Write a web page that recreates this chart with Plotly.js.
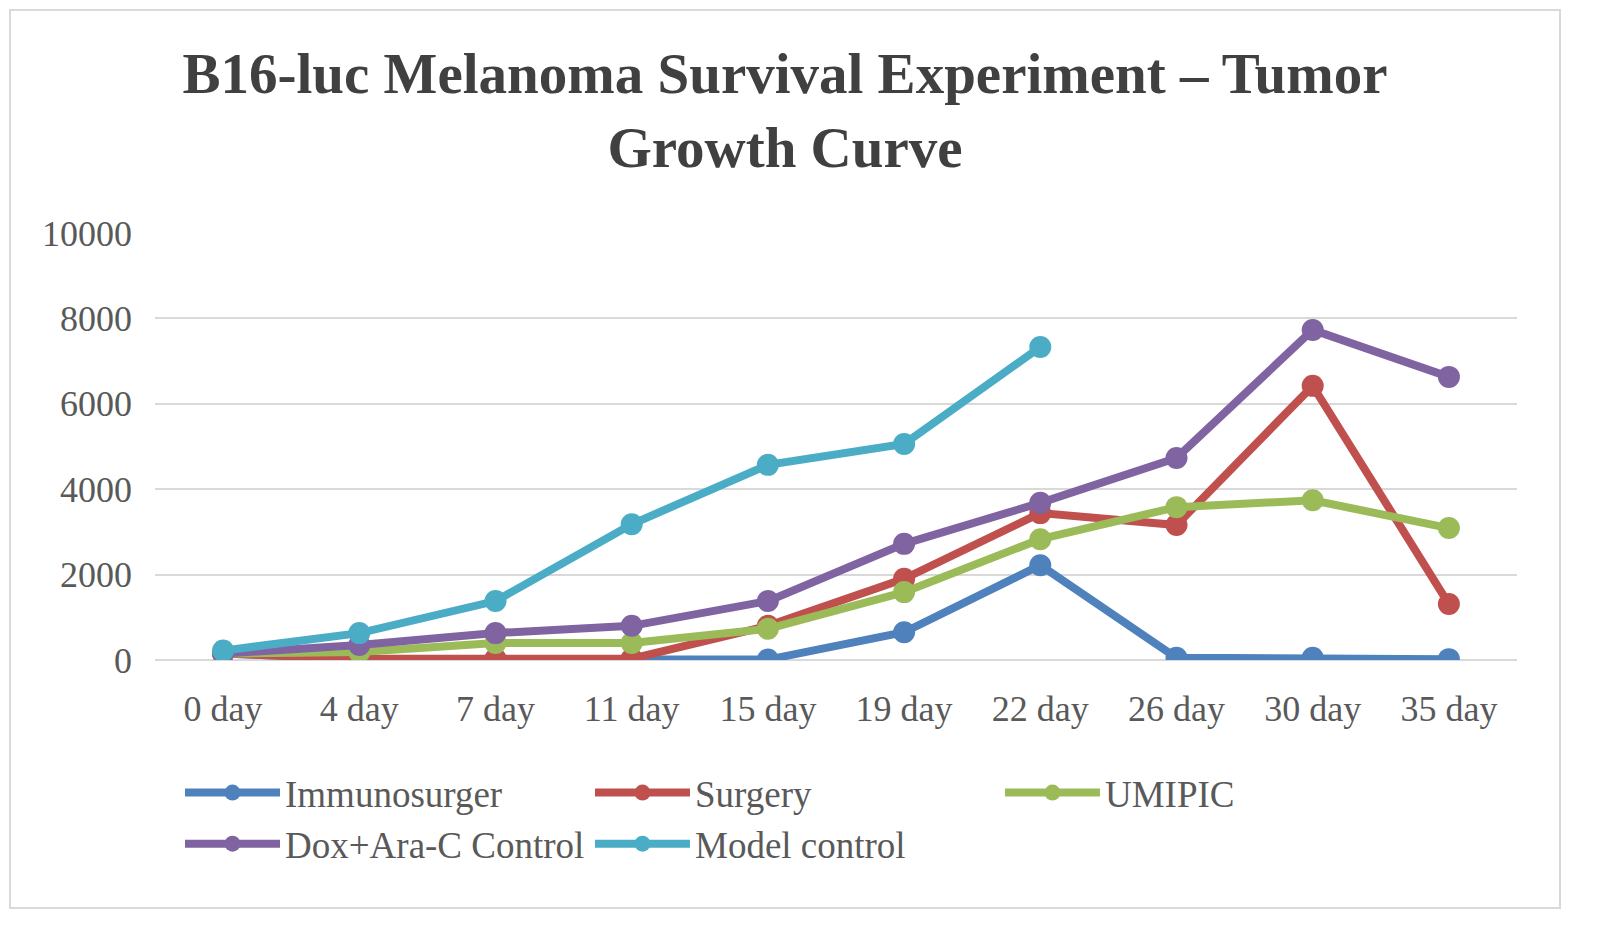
<!DOCTYPE html>
<html>
<head>
<meta charset="utf-8">
<script src="https://cdn.plot.ly/plotly-3.0.1.min.js"></script>
<style>html,body{margin:0;padding:0;background:#fff;}#chart{width:1598px;height:931px;}</style>
</head>
<body>
<div id="chart"></div>
<script>
const days = ["0 day","4 day","7 day","11 day","15 day","19 day","22 day","26 day","30 day","35 day"];
const immunosurger = [150, 30, 10, 10, 10, 650, 2220, 50, 50, 20];
const surgery = [150, 30, 30, 30, 800, 1900, 3440, 3160, 6420, 1310];
const umipic = [150, 190, 400, 400, 730, 1590, 2830, 3580, 3740, 3090];
const doxAraC = [150, 350, 630, 800, 1380, 2720, 3680, 4730, 7730, 6630];
const modelControl = [220, 630, 1380, 3180, 4570, 5060, 7330, null, null, null];
const seriesNames = ["Immunosurger","Surgery","UMIPIC","Dox+Ara-C Control","Model control"];
const seriesColors = ["#4F81BD","#C0504D","#9BBB59","#8064A2","#4BACC6"];
const yTicks = [0,2000,4000,6000,8000,10000];

const allSeries = [immunosurger, surgery, umipic, doxAraC, modelControl];
const traces = allSeries.map((vals, i) => ({
  type: 'scatter', mode: 'lines+markers', x: days, y: vals, name: seriesNames[i],
  line: {color: seriesColors[i], width: 8},
  marker: {color: seriesColors[i], size: 22},
  connectgaps: false
}));

const L = 155, R = 81, T = 233, B = 271, W = 1598, H = 931;
const pw = W - L - R, ph = H - T - B;
const px = v => (v - L) / pw;
const py = v => (H - B - v) / ph;

const layout = {
  width: W, height: H,
  margin: {l: L, r: R, t: T, b: B},
  paper_bgcolor: '#fff', plot_bgcolor: '#fff',
  font: {family: '"Liberation Serif", "Times New Roman", serif', color: '#595959', size: 36},
  title: {
    text: '<b>B16-luc Melanoma Survival Experiment – Tumor<br>Growth Curve</b>',
    font: {family: '"Liberation Serif", "Times New Roman", serif', size: 57, color: '#404040'},
    x: 785 / W, xanchor: 'center', xref: 'container',
    y: 1 - 93 / H, yanchor: 'top', yref: 'container'
  },
  xaxis: {
    type: 'category', range: [-0.5, 9.5], showgrid: false, zeroline: false, showline: false,
    ticks: '', tickfont: {size: 36, color: '#595959'}, ticklabelstandoff: 24, fixedrange: true
  },
  yaxis: {
    range: [0, 10000], tickvals: yTicks, ticktext: yTicks.map(String),
    showgrid: true, gridcolor: '#d9d9d9', gridwidth: 2,
    zeroline: true, zerolinecolor: '#d9d9d9', zerolinewidth: 2, showline: false,
    ticks: '', tickfont: {size: 36, color: '#595959'}, ticklabelstandoff: 22, fixedrange: true
  },
  showlegend: true,
  legend: {
    orientation: 'h', x: px(180), xanchor: 'left', y: py(762), yanchor: 'top',
    font: {size: 37, color: '#595959'}, itemwidth: 95, entrywidth: 300, entrywidthmode: 'pixels',
    traceorder: 'normal', bgcolor: 'rgba(0,0,0,0)', tracegroupgap: 0
  },
  shapes: [{
    type: 'rect', xref: 'paper', yref: 'paper',
    x0: px(10), x1: px(1560), y0: py(908), y1: py(10),
    line: {color: '#d9d9d9', width: 2}, fillcolor: 'rgba(0,0,0,0)', layer: 'below'
  }]
};

Plotly.newPlot('chart', traces, layout, {displayModeBar: false, staticPlot: true});
</script>
</body>
</html>
